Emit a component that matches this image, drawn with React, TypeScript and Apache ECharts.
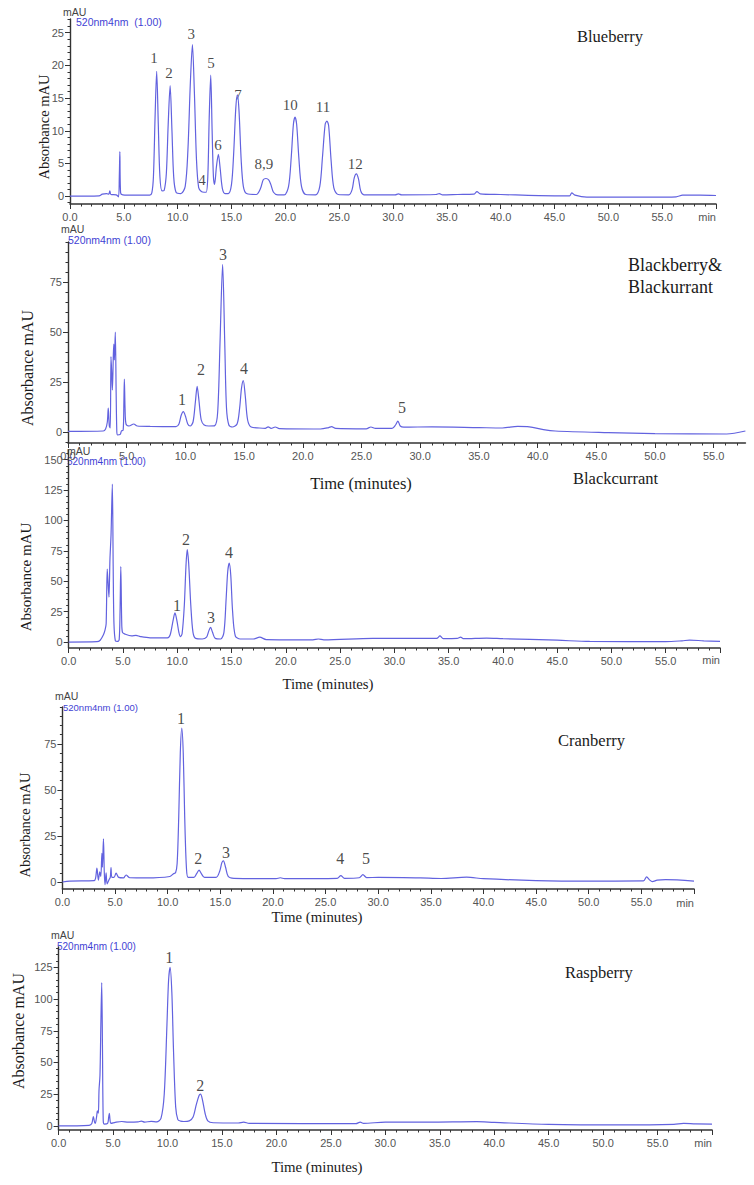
import React, { useEffect, useRef } from "react";
import * as echarts from "echarts";

type Pt = [number, number];
type Peak = [number, number, string];

// ---------- Blueberry ----------
const blueberryTrace: Pt[] = [
  [0, 0], [2.7, 0.05], [3.0, 0.3], [3.4, 0.4], [3.6, 0.3], [3.7, 0.8], [3.8, 0.25], [4.3, 0.2], [4.5, -0.1],
  [4.58, 3], [4.63, 6.8], [4.7, 0.5], [4.9, 0.2], [6, 0.15], [7.4, 0.15],
  [7.6, 0.5], [7.75, 3], [7.9, 12], [8.05, 19.1], [8.2, 11], [8.35, 3], [8.55, 0.8], [8.75, 0.9],
  [8.95, 3.5], [9.12, 11], [9.3, 16.9], [9.47, 10], [9.63, 3], [9.85, 0.6], [10.3, 0.4],
  [10.7, 1.5], [10.95, 7], [11.17, 17], [11.37, 23.2], [11.55, 16], [11.75, 5.5], [11.95, 1.3],
  [12.2, 0.7], [12.45, 0.6], [12.65, 0.6], [12.8, 3], [12.93, 12], [13.07, 18.5], [13.2, 10], [13.32, 3],
  [13.43, 1.8], [13.6, 4.5], [13.78, 6.4], [13.95, 4.2], [14.15, 1.2], [14.4, 0.4], [14.7, 0.4],
  [15.0, 1.8], [15.2, 6.5], [15.4, 13.5], [15.55, 15.5], [15.7, 13], [15.9, 5.5], [16.1, 1.5], [16.4, 0.4],
  [17.3, 0.25], [17.7, 1.2], [17.95, 2.5], [18.2, 2.7], [18.45, 2.5], [18.65, 1.8], [18.9, 0.6], [19.3, 0.2],
  [19.9, 0.2], [20.3, 1.5], [20.55, 6], [20.75, 11], [20.9, 12.1], [21.05, 11], [21.25, 6], [21.5, 1.5], [21.9, 0.25],
  [22.8, 0.2], [23.2, 1.5], [23.45, 6], [23.7, 11], [23.86, 11.5], [24.02, 10.8], [24.25, 5.5], [24.5, 1.3], [24.9, 0.25],
  [25.9, 0.2], [26.2, 1], [26.4, 2.8], [26.6, 3.4], [26.8, 2.6], [27.0, 0.8], [27.3, 0.2],
  [28.5, 0.2], [30.2, 0.2], [30.5, 0.35], [30.8, 0.2], [34, 0.25], [34.3, 0.4], [34.6, 0.2], [36, 0.25],
  [37.5, 0.3], [37.8, 0.7], [38.1, 0.35], [40, 0.25], [45, 0.05], [46.4, 0.05], [46.6, 0.5], [46.9, 0.15],
  [48, -0.15], [54, -0.15], [56.3, -0.1], [56.9, 0.15], [58.5, 0.15], [60, 0.1],
];
const blueberryPeaks: Peak[] = [
  [7.81, 21.1, "1"], [9.2, 18.8, "2"], [11.25, 24.8, "3"], [12.27, 2.45, "4"], [13.1, 20.3, "5"],
  [13.75, 7.8, "6"], [15.6, 15.4, "7"], [18.0, 4.9, "8,9"], [20.45, 14.0, "10"], [23.5, 13.6, "11"], [26.5, 4.9, "12"],
];

// ---------- Blackberry & Blackurrant ----------
const blackberryTrace: Pt[] = [
  [0, 0.3], [3.0, 0.5], [3.2, 1.5], [3.35, 5], [3.43, 12], [3.52, 3], [3.6, 2], [3.66, 37.7], [3.72, 30],
  [3.78, 21], [3.86, 38], [3.9, 44], [3.95, 36], [4.03, 50], [4.1, 20], [4.15, 2], [4.2, -1.5], [4.45, -1.2],
  [4.55, 0.5], [4.7, 1], [4.76, 15], [4.8, 26.5], [4.86, 12], [4.94, 4], [5.2, 3], [5.6, 4], [5.9, 3],
  [7, 2.8], [9.2, 2.7], [9.45, 4], [9.65, 8.5], [9.82, 10.2], [10.0, 8], [10.2, 4], [10.4, 3],
  [10.65, 5], [10.85, 15], [11.0, 22.8], [11.15, 16], [11.35, 6], [11.6, 3.5], [12.0, 3], [12.5, 3.2],
  [12.75, 10], [12.95, 45], [13.17, 83.8], [13.35, 45], [13.5, 12], [13.7, 3.5], [14.0, 2.5],
  [14.4, 4], [14.62, 12], [14.78, 22], [14.93, 25.7], [15.1, 18], [15.3, 6], [15.6, 2.5],
  [16.3, 2], [16.8, 1.8], [17.05, 2.6], [17.3, 1.8], [17.65, 2.5], [18.0, 1.7], [21.5, 1.5], [22.2, 2.2],
  [22.45, 2.7], [22.8, 1.8], [25.4, 1.6], [25.8, 2.5], [26.2, 1.8], [27.6, 1.8], [27.9, 3.5], [28.1, 5.5],
  [28.3, 3], [28.6, 2.4], [31, 2.6], [35, 2.2], [37, 2], [38.3, 2.8], [39.3, 2.6], [40.5, 1.2], [41.5, 0.5],
  [46, -0.3], [50, -0.8], [56.1, -1], [57.7, 0.5],
];
const blackberryPeaks: Peak[] = [
  [9.71, 16.5, "1"], [11.33, 31.5, "2"], [13.2, 89, "3"], [15.0, 32, "4"], [28.45, 12.5, "5"],
];

// ---------- Blackcurrant ----------
const blackcurrantTrace: Pt[] = [
  [0, 0], [2.6, 0.3], [2.9, 1.5], [3.2, 6], [3.35, 10], [3.45, 15], [3.55, 60], [3.65, 45], [3.71, 37],
  [3.8, 68], [3.9, 88], [4.02, 130], [4.1, 60], [4.17, 15], [4.3, 1], [4.5, 0.5], [4.65, 2], [4.73, 25],
  [4.8, 62], [4.88, 18], [4.95, 8], [5.2, 6.5], [5.8, 5], [6.2, 5.5], [6.6, 4.5], [7.5, 3.5], [9.1, 3.5],
  [9.35, 6], [9.6, 17], [9.79, 24], [9.98, 17], [10.15, 8], [10.3, 4.5], [10.45, 7], [10.65, 30],
  [10.8, 62], [10.92, 76], [11.05, 65], [11.25, 30], [11.45, 8], [11.7, 3], [12.3, 2.5], [12.7, 4],
  [12.9, 9], [13.07, 12], [13.25, 8], [13.5, 3], [14.0, 2.5], [14.3, 8], [14.5, 35], [14.65, 58],
  [14.79, 65], [14.93, 55], [15.1, 25], [15.35, 5], [15.8, 2.5], [17.0, 2.5], [17.6, 4], [18.2, 2],
  [22.5, 1.8], [23.0, 2.5], [23.5, 1.8], [28, 3], [33.9, 3], [34.2, 5], [34.5, 2.8], [35.8, 3], [36.1, 4],
  [36.4, 2.8], [38.5, 3.3], [40, 2.8], [45, 1.5], [48, 0.5], [55, 0.3], [56.5, 1], [57.2, 1.6], [58.5, 1], [60, 0.6],
];
const blackcurrantPeaks: Peak[] = [
  [9.97, 30, "1"], [10.8, 84, "2"], [13.1, 20.5, "3"], [14.76, 74, "4"],
];

// ---------- Cranberry ----------
const cranberryTrace: Pt[] = [
  [0, 0], [0.7, 0.5], [3.0, 0.7], [3.15, 2], [3.28, 7.5], [3.42, 1], [3.55, 5.5], [3.65, 3], [3.75, 15.5],
  [3.8, 8], [3.9, 23.4], [3.98, 5], [4.05, -1.5], [4.15, 5], [4.25, -1], [4.45, 1.5], [4.55, 2.5], [4.62, 7.8],
  [4.7, 2.5], [4.9, 2.5], [5.1, 4.8], [5.35, 2.5], [5.8, 2.2], [6.05, 3.8], [6.4, 2.3], [8, 2.2], [10.2, 3],
  [10.55, 4.5], [10.75, 5], [10.9, 10], [11.05, 35], [11.2, 70], [11.34, 83.6], [11.48, 70], [11.62, 35],
  [11.78, 8], [11.95, 2.5], [12.5, 2.5], [12.75, 4.5], [12.98, 6.5], [13.2, 4.5], [13.5, 2.5], [14.6, 2.5],
  [14.95, 6], [15.15, 10.5], [15.3, 11.5], [15.5, 8], [15.75, 3], [16.3, 2], [20.3, 1.8], [20.7, 2.3],
  [21.1, 1.8], [26.1, 2], [26.45, 3.5], [26.8, 2], [28.2, 2.3], [28.55, 4], [28.9, 2.4], [30, 2.5], [34, 2.2],
  [36, 1.9], [38.4, 2.6], [40, 1.8], [45, 0.8], [50, 0.5], [55.2, 0.6], [55.5, 2.8], [55.8, 1], [56.05, 0.2],
  [56.5, 1], [57.3, 1.3], [60, 0.5],
];
const cranberryPeaks: Peak[] = [
  [11.27, 89, "1"], [12.9, 13, "2"], [15.55, 15.8, "3"], [26.4, 12.5, "4"], [28.85, 12.5, "5"],
];

// ---------- Raspberry ----------
const raspberryTrace: Pt[] = [
  [0, 0], [2.8, 0.5], [3.05, 2], [3.19, 7.4], [3.3, 3], [3.37, 2], [3.5, 8], [3.56, 11.8], [3.65, 10],
  [3.71, 28], [3.8, 40], [3.88, 80], [3.96, 113], [4.03, 60], [4.1, 4], [4.2, 1.5], [4.5, 2], [4.6, 7],
  [4.66, 10], [4.72, 5], [4.8, 2], [5.2, 2.8], [5.8, 3.5], [6.4, 3], [7.3, 3.2], [7.6, 3.8], [7.9, 3],
  [8.5, 3.6], [9.0, 3.2], [9.4, 6], [9.7, 25], [9.95, 80], [10.1, 115], [10.24, 125], [10.4, 105],
  [10.55, 60], [10.75, 15], [10.95, 5], [11.2, 3.8], [11.5, 3.5], [12.0, 4], [12.35, 7], [12.65, 17],
  [12.9, 24], [13.03, 25], [13.2, 21], [13.45, 10], [13.7, 4], [14.2, 2.5], [16.5, 2.3], [17, 3], [17.5, 2],
  [27.3, 1.8], [27.7, 3], [28, 2], [30, 3], [34, 3], [38.4, 3.4], [40, 2.8], [45, 1.2], [52, 0.8],
  [56.5, 1.3], [57.4, 2], [58.5, 1.6], [60, 1.5],
];
const raspberryPeaks: Peak[] = [
  [10.15, 132.5, "1"], [13.0, 31.5, "2"],
];

// ---------- Tick labels ----------
const xTickLabels = [0, 5, 10, 15, 20, 25, 30, 35, 40, 45, 50, 55];
const yTicksBlueberry = [0, 5, 10, 15, 20, 25];
const yTicks75 = [0, 25, 50, 75];
const yTicks150 = [0, 25, 50, 75, 100, 125, 150];
const yTicks125 = [0, 25, 50, 75, 100, 125];

const SERIF = '"Liberation Serif", "Times New Roman", serif';
const SANS = '"Liberation Sans", Arial, sans-serif';
const TRACE = "#6262df";
const AXIS = "#333";
const LABEL = "#555";
const BLUE_TXT = "#3f3fd4";

function steps(a: number, b: number, s: number): number[] {
  const out: number[] = [];
  const start = Math.ceil(a / s) * s;
  for (let v = start; v <= b + 1e-9; v += s) out.push(Math.round(v * 1000) / 1000);
  return out;
}

const panels = [
  { trace: blueberryTrace, peaks: blueberryPeaks, left: 70, right: 38, top: 19, bottom: 981, xMax: 60, yMin: -1.2, yMax: 27.1, yLabels: yTicksBlueberry, yMinor: 1, hasMin: true, peakFont: 15 },
  { trace: blackberryTrace, peaks: blackberryPeaks, left: 68, right: 8.6, top: 242, bottom: 742, xMax: 57.7, yMin: -5.5, yMax: 95, yLabels: yTicks75, yMinor: 5, hasMin: false, peakFont: 16 },
  { trace: blackcurrantTrace, peaks: blackcurrantPeaks, left: 68.7, right: 34, top: 450, bottom: 537, xMax: 60, yMin: -4.9, yMax: 158, yLabels: yTicks150, yMinor: 5, hasMin: true, peakFont: 16 },
  { trace: cranberryTrace, peaks: cranberryPeaks, left: 62.4, right: 60, top: 707, bottom: 296, xMax: 60, yMin: -3.8, yMax: 95, yLabels: yTicks75, yMinor: 5, hasMin: true, peakFont: 16 },
  { trace: raspberryTrace, peaks: raspberryPeaks, left: 58.6, right: 42, top: 947, bottom: 55, xMax: 60, yMin: -3.2, yMax: 141, yLabels: yTicks125, yMinor: 5, hasMin: true, peakFont: 16 },
];

function txt(text: string, x: number, y: number, size: number, family: string, fill: string, align = "left", rotation = 0) {
  return {
    type: "text",
    x,
    y,
    rotation,
    silent: true,
    style: { text, fontSize: size, fontFamily: family, fill, align, verticalAlign: "middle", textAlign: align, textVerticalAlign: "middle" },
  };
}

function buildOption() {
  const grid: any[] = [];
  const xAxis: any[] = [];
  const yAxis: any[] = [];
  const series: any[] = [];

  panels.forEach((p, i) => {
    grid.push({ left: p.left, right: p.right, top: p.top, bottom: p.bottom, containLabel: false });
    const xMajor = p.hasMin ? [...xTickLabels, 60] : xTickLabels;
    const xMinor = steps(0, p.xMax, 1).filter((v) => v % 5 !== 0);
    const yMinor = steps(p.yMin, p.yMax, p.yMinor).filter((v) => !p.yLabels.includes(v));

    xAxis.push({
      gridIndex: i, type: "value", min: 0, max: p.xMax, position: "bottom",
      axisLine: { show: true, onZero: false, lineStyle: { color: AXIS, width: 1.6 } },
      axisTick: { show: true, customValues: xMajor, length: 5, lineStyle: { color: AXIS, width: 1 } },
      axisLabel: { show: true, customValues: xTickLabels, formatter: (v: number) => v.toFixed(1), color: LABEL, fontFamily: SANS, fontSize: 11, margin: 7 },
      splitLine: { show: false },
    });
    xAxis.push({
      gridIndex: i, type: "value", min: 0, max: p.xMax, position: "bottom",
      axisLine: { show: false, onZero: false },
      axisTick: { show: true, customValues: xMinor, length: 2.5, lineStyle: { color: AXIS, width: 1 } },
      axisLabel: { show: false },
      splitLine: { show: false },
    });
    yAxis.push({
      gridIndex: i, type: "value", min: p.yMin, max: p.yMax, position: "left",
      axisLine: { show: true, onZero: false, lineStyle: { color: AXIS, width: 1.4 } },
      axisTick: { show: true, customValues: p.yLabels, length: 5, lineStyle: { color: AXIS, width: 1 } },
      axisLabel: { show: true, customValues: p.yLabels, color: LABEL, fontFamily: SANS, fontSize: 11, margin: 6 },
      splitLine: { show: false },
    });
    yAxis.push({
      gridIndex: i, type: "value", min: p.yMin, max: p.yMax, position: "left",
      axisLine: { show: false, onZero: false },
      axisTick: { show: true, customValues: yMinor, length: 2.5, lineStyle: { color: AXIS, width: 1 } },
      axisLabel: { show: false },
      splitLine: { show: false },
    });

    series.push({
      type: "line", xAxisIndex: 2 * i, yAxisIndex: 2 * i, data: p.trace,
      showSymbol: false, symbol: "none", smooth: 0.3, silent: true,
      lineStyle: { color: TRACE, width: 1.2 },
    });
    series.push({
      type: "scatter", xAxisIndex: 2 * i, yAxisIndex: 2 * i,
      data: p.peaks.map((k) => ({ value: [k[0], k[1]], name: k[2] })),
      symbolSize: 1, silent: true, itemStyle: { color: "rgba(0,0,0,0)" },
      label: { show: true, position: "inside", formatter: "{b}", fontFamily: SERIF, fontSize: p.peakFont, color: "#1a1a1a" },
    });
  });

  const graphic: any[] = [
    // y-axis titles
    txt("Absorbance mAU", 44, 127, 14.5, SERIF, "#1a1a1a", "center", Math.PI / 2),
    txt("Absorbance mAU", 27, 368, 16, SERIF, "#1a1a1a", "center", Math.PI / 2),
    txt("Absorbance mAU", 25.5, 577, 15, SERIF, "#1a1a1a", "center", Math.PI / 2),
    txt("Absorbance mAU", 25, 825, 14.5, SERIF, "#1a1a1a", "center", Math.PI / 2),
    txt("Absorbance mAU", 18, 1031, 16, SERIF, "#1a1a1a", "center", Math.PI / 2),
    // panel titles
    txt("Blueberry", 577, 36, 16.5, SERIF, "#1a1a1a"),
    txt("Blackberry&", 628, 265, 18, SERIF, "#1a1a1a"),
    txt("Blackurrant", 628, 287, 18, SERIF, "#1a1a1a"),
    txt("Blackcurrant", 573, 478, 16.5, SERIF, "#1a1a1a"),
    txt("Cranberry", 558, 740, 16.5, SERIF, "#1a1a1a"),
    txt("Raspberry", 565, 972, 16.5, SERIF, "#1a1a1a"),
    // x-axis titles
    txt("Time (minutes)", 361, 483, 16.5, SERIF, "#1a1a1a", "center"),
    txt("Time (minutes)", 328, 684, 14.8, SERIF, "#1a1a1a", "center"),
    txt("Time (minutes)", 317, 917, 14.8, SERIF, "#1a1a1a", "center"),
    txt("Time (minutes)", 317, 1167, 14.8, SERIF, "#1a1a1a", "center"),
    // "min" unit labels
    txt("min", 716, 217, 11, SANS, LABEL, "right"),
    txt("min", 720, 660, 11, SANS, LABEL, "right"),
    txt("min", 694, 903, 11, SANS, LABEL, "right"),
    txt("min", 712, 1143, 11, SANS, LABEL, "right"),
    // detector headers
    txt("mAU", 63, 12, 10.5, SANS, "#444"),
    txt("520nm4nm  (1.00)", 76, 22, 10.5, SANS, BLUE_TXT),
    txt("mAU", 61, 229, 10.5, SANS, "#444"),
    txt("520nm4nm (1.00)", 68, 240, 10.5, SANS, BLUE_TXT),
    txt("mAU", 67, 451, 10.5, SANS, "#444"),
    txt("520nm4nm (1.00)", 67, 461, 10, SANS, BLUE_TXT),
    txt("mAU", 55, 696, 10.5, SANS, "#444"),
    txt("520nm4nm (1.00)", 63, 707, 9.5, SANS, BLUE_TXT),
    txt("mAU", 51, 935, 10.5, SANS, "#444"),
    txt("520nm4nm (1.00)", 57, 946, 10, SANS, BLUE_TXT),
  ];

  return { animation: false, backgroundColor: "#ffffff", grid, xAxis, yAxis, series, graphic };
}

export default function App() {
  const ref = useRef<HTMLDivElement | null>(null);
  useEffect(() => {
    if (!ref.current) return;
    const chart = echarts.init(ref.current, undefined, { renderer: "svg" });
    chart.setOption(buildOption() as any);
    return () => chart.dispose();
  }, []);
  return (
    <div
      ref={ref}
      style={{ position: "absolute", left: 0, top: 0, width: 754, height: 1185, background: "#fff" }}
    />
  );
}
